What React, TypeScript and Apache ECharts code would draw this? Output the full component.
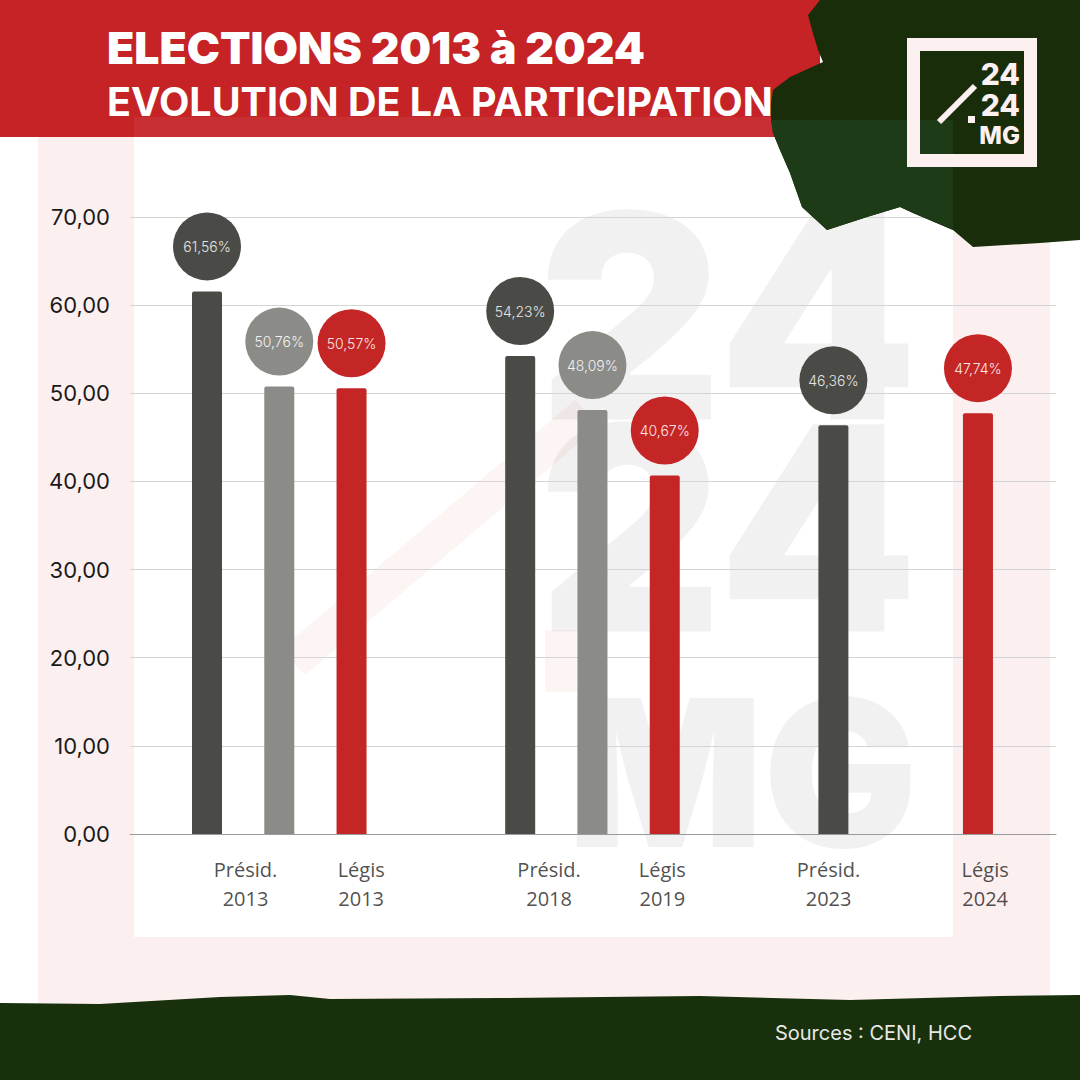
import React, { useEffect, useRef } from "react";
import * as echarts from "echarts";

// ---- data ----
const elections = [
  "Présid. 2013 (1er tour)",
  "Présid. 2013 (2nd tour)",
  "Légis 2013",
  "Présid. 2018 (1er tour)",
  "Présid. 2018 (2nd tour)",
  "Légis 2019",
  "Présid. 2023",
  "Légis 2024",
];
const turnout = [61.56, 50.76, 50.57, 54.23, 48.09, 40.67, 46.36, 47.74];
const kinds = ["t1", "t2", "legis", "t1", "t2", "legis", "t1", "legis"];
// slot of each bar along the horizontal axis
const barSlots = [3, 6, 9, 16, 19, 22, 29, 35];
const tickLabels = ["Présid.\n2013", "Légis\n2013", "Présid.\n2018", "Légis\n2019", "Présid.\n2023", "Légis\n2024"];
const tickSlots = [4.6, 9.4, 17.2, 21.9, 28.8, 35.3];
const yTicks = [0, 10, 20, 30, 40, 50, 60, 70];

const COLORS: Record<string, string> = { t1: "#4a4b46", t2: "#8b8b87", legis: "#c42525" };
const TEXT_COLORS: Record<string, string> = { t1: "#e4e4e4", t2: "#f2f2f2", legis: "#fbe6e6" };

const fmt = (v: number) => v.toFixed(2).replace(".", ",");

export default function App() {
  const ref = useRef<HTMLDivElement>(null);
  useEffect(() => {
    if (!ref.current) return;
    const chart = echarts.init(ref.current, null, { renderer: "svg" });

    const blob = [
      [820, 0], [808, 15], [812, 30], [818, 50], [823, 62], [790, 77], [773, 90], [770, 110],
      [773, 133], [780, 150], [790, 173], [802, 207], [827, 230], [867, 217], [900, 207],
      [913, 213], [953, 230], [973, 247], [1040, 243], [1080, 240], [1080, 0],
    ];
    const blobLight = [
      [771, 120], [773, 133], [780, 150], [790, 173], [802, 207], [827, 230], [867, 217], [900, 207],
      [913, 213], [953, 230], [953, 120],
    ];
    const band = [
      [0, 1003], [100, 1004], [220, 997], [290, 995], [330, 999], [500, 998], [700, 996],
      [850, 1000], [1000, 996], [1080, 995], [1080, 1080], [0, 1080],
    ];
    const wm = "rgba(0,0,0,0.055)";

    const option: any = {
      animation: false,
      backgroundColor: "#ffffff",
      grid: { left: 130, right: 24, top: 217, bottom: 246, outerBoundsMode: "none" },
      xAxis: {
        type: "value",
        min: -0.196,
        max: 38.24,
        axisLine: { show: true, onZero: false, lineStyle: { color: "#9a9a9a", width: 1 } },
        axisTick: { show: false },
        axisLabel: { show: false },
        splitLine: { show: false },
      },
      yAxis: {
        type: "value",
        min: 0,
        max: 70,
        interval: 10,
        axisLine: { show: false },
        axisTick: { show: false },
        splitLine: { show: true, lineStyle: { color: "#d4d4d4", width: 1 } },
        axisLabel: {
          margin: 20,
          fontFamily: "Inter",
          fontSize: 22,
          color: "#1a1a1a",
          formatter: (v: number) => (yTicks.includes(v) ? fmt(v) : ""),
        },
      },
      series: [
        {
          type: "bar",
          barWidth: 30,
          z: 3,
          data: turnout.map((v, i) => ({
            name: elections[i],
            value: [barSlots[i], v],
            itemStyle: { color: COLORS[kinds[i]], borderRadius: [2, 2, 0, 0] },
            label: { backgroundColor: COLORS[kinds[i]], color: TEXT_COLORS[kinds[i]] },
          })),
          label: {
            show: true,
            position: "top",
            distance: 11,
            width: 68,
            height: 68,
            lineHeight: 68,
            borderRadius: 34,
            align: "center",
            fontFamily: "Inter",
            fontWeight: 300,
            fontSize: 14,
            formatter: (p: any) => fmt(p.value[1]) + "%",
          },
        },
        {
          type: "scatter",
          symbolSize: 1,
          silent: true,
          itemStyle: { color: "transparent" },
          data: tickSlots.map((s, i) => ({ name: tickLabels[i], value: [s, 0] })),
          label: {
            show: true,
            position: "bottom",
            distance: 20,
            fontFamily: "Open Sans",
            fontSize: 20,
            lineHeight: 29,
            color: "#222222",
            align: "center",
            formatter: (p: any) => p.name,
          },
        },
      ],
      graphic: [
        // frames
        { type: "rect", z: -20, silent: true, shape: { x: 38, y: 137, width: 1012, height: 893 }, style: { fill: "#fcefef" } },
        { type: "rect", z: -19, silent: true, shape: { x: 134, y: 137, width: 819, height: 800 }, style: { fill: "#ffffff" } },
        // watermark
        { type: "polygon", z: -18, silent: true, shape: { points: [[280, 650], [575, 400], [600, 425], [305, 675]] }, style: { fill: "rgba(210,40,40,0.05)" } },
        { type: "rect", z: -18, silent: true, shape: { x: 545, y: 630, width: 45, height: 62 }, style: { fill: "rgba(210,40,40,0.05)" } },
        { type: "text", z: -18, silent: true, style: { x: 918, y: 316, text: "24", align: "right", verticalAlign: "middle", font: "900 285px Inter", fill: wm } },
        { type: "text", z: -18, silent: true, style: { x: 918, y: 528, text: "24", align: "right", verticalAlign: "middle", font: "900 285px Inter", fill: wm } },
        { type: "text", z: -18, silent: true, style: { x: 918, y: 772, text: "MG", align: "right", verticalAlign: "middle", font: "900 205px Inter", fill: wm } },
        // header
        { type: "rect", z: 20, silent: true, shape: { x: 0, y: 0, width: 820, height: 137 }, style: { fill: "#c52326" } },
        { type: "rect", z: 20, silent: true, shape: { x: 134, y: 117, width: 690, height: 20 }, style: { fill: "rgba(255,255,255,0.06)" } },
        { type: "polygon", z: 21, silent: true, shape: { points: blob }, style: { fill: "#1a2d0b" } },
        { type: "polygon", z: 21, silent: true, shape: { points: blobLight }, style: { fill: "#1d3b17" } },
        { type: "text", z: 22, silent: true, style: { x: 107, y: 48, text: "ELECTIONS 2013 à 2024", verticalAlign: "middle", font: "900 44.5px Inter", fill: "#ffffff" } },
        { type: "text", z: 22, silent: true, style: { x: 107, y: 102, text: "EVOLUTION DE LA PARTICIPATION", verticalAlign: "middle", font: "700 39.5px Inter", fill: "#ffffff" } },
        // logo
        { type: "rect", z: 22, silent: true, shape: { x: 913.5, y: 44.5, width: 117, height: 116 }, style: { fill: "none", stroke: "#fdf0f0", lineWidth: 13 } },
        { type: "line", z: 22, silent: true, shape: { x1: 939, y1: 122, x2: 975, y2: 86 }, style: { stroke: "#fdf0f0", lineWidth: 6 } },
        { type: "rect", z: 22, silent: true, shape: { x: 968, y: 116, width: 7, height: 7 }, style: { fill: "#fdf0f0" } },
        { type: "text", z: 22, silent: true, style: { x: 1020, y: 74, text: "24", align: "right", verticalAlign: "middle", font: "800 30px Inter", fill: "#fdf0f0" } },
        { type: "text", z: 22, silent: true, style: { x: 1020, y: 105, text: "24", align: "right", verticalAlign: "middle", font: "800 30px Inter", fill: "#fdf0f0" } },
        { type: "text", z: 22, silent: true, style: { x: 1020, y: 135, text: "MG", align: "right", verticalAlign: "middle", font: "800 24px Inter", fill: "#fdf0f0" } },
        // bottom band
        { type: "polygon", z: 20, silent: true, shape: { points: band }, style: { fill: "#18300c" } },
        { type: "text", z: 22, silent: true, style: { x: 972, y: 1033, text: "Sources : CENI, HCC", align: "right", verticalAlign: "middle", font: "400 20px Inter", fill: "#e8e8e8" } },
      ],
    };
    chart.setOption(option);
    return () => chart.dispose();
  }, []);
  return <div ref={ref} style={{ position: "absolute", left: 0, top: 0, width: 1080, height: 1080 }} />;
}
